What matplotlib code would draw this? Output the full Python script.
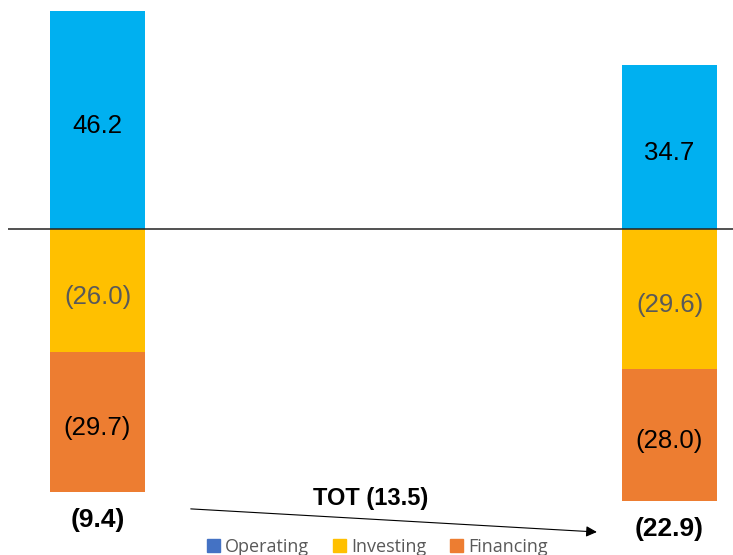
import matplotlib
matplotlib.use("Agg")
import matplotlib.pyplot as plt
from matplotlib.patches import Patch

# Cash-flow components per period (negative values shown in parentheses)
periods = ["Period 1", "Period 2"]
operating = [46.2, 34.7]
investing = [-26.0, -29.6]
financing = [-29.7, -28.0]
totals = [-9.4, -22.9]
delta_label = "TOT (13.5)"
legend_labels = ["Operating", "Investing", "Financing"]

BLUE = "#00B0F0"
LEGEND_BLUE = "#4472C4"
YELLOW = "#FFC000"
ORANGE = "#ED7D31"
GREY_TXT = "#595959"

plt.rcParams["font.family"] = ["Liberation Sans", "DejaVu Sans"]


def fmt(v):
    return f"({abs(v):.1f})" if v < 0 else f"{v:.1f}"


fig = plt.figure(figsize=(7.33, 5.55), dpi=100)
ax = fig.add_axes([8 / 733, 0, 725 / 733, 1])
ax.set_axis_off()
ax.set_xlim(-0.1565, 1.111)
ax.set_ylim(-69.07, 48.52)

x = list(range(len(periods)))
width = 0.166

ax.bar(x, operating, width, color=BLUE, zorder=2)
ax.bar(x, investing, width, color=YELLOW, zorder=2)
ax.bar(x, financing, width, bottom=investing, color=ORANGE, zorder=2)

ax.axhline(0, color="#222222", lw=1.1, zorder=3)


def seg_label(xi, y, v, color):
    ax.annotate(fmt(v), xy=(xi, y), xytext=(0, -4.5), textcoords="offset points",
                ha="center", va="center", fontsize=18.5, color=color, zorder=4)


for i in x:
    seg_label(i, operating[i] / 2, operating[i], "black")
    seg_label(i, investing[i] / 2, investing[i], GREY_TXT)
    seg_label(i, investing[i] + financing[i] / 2, financing[i], "black")
    bottom = investing[i] + financing[i]
    ax.text(i, bottom - 5.9, fmt(totals[i]), ha="center", va="center",
            fontsize=19, fontweight="bold", color="black")

# Change between the two totals
ax.annotate("", xy=(0.873, -64.2), xytext=(0.163, -59.3),
            arrowprops=dict(arrowstyle="-|>", color="black", lw=0.8,
                            mutation_scale=16, shrinkA=0, shrinkB=0))
ax.text(0.477, -57.2, delta_label, ha="center", va="center",
        fontsize=17, fontweight="bold", color="black")

handles = [Patch(color=LEGEND_BLUE), Patch(color=YELLOW), Patch(color=ORANGE)]
fig.legend(handles, legend_labels, loc="center", bbox_to_anchor=(0.515, 0.014),
           ncol=3, frameon=False, handlelength=0.72, handleheight=0.72,
           handletextpad=0.3, columnspacing=1.3, borderpad=0,
           prop={"family": "Open Sans", "size": 13}, labelcolor=GREY_TXT)

fig.savefig("out.png", dpi=100)
